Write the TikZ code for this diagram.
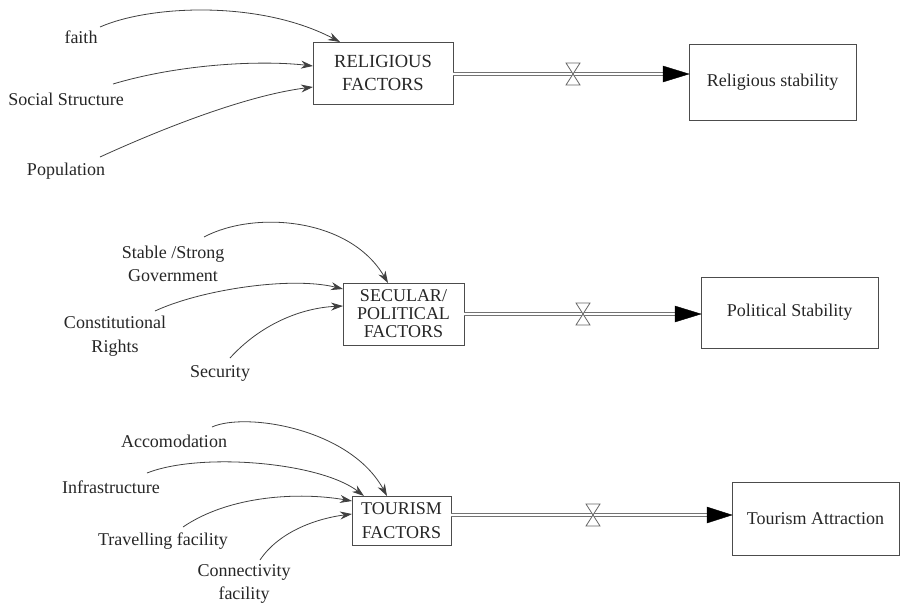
\documentclass[tikz,border=0pt]{standalone}
\usepackage{fontspec}
\setmainfont{Liberation Serif}
\usetikzlibrary{arrows.meta}
\begin{document}
\begin{tikzpicture}[x=1pt,y=-1pt,
  box/.style={draw=black!70, line width=1pt, inner sep=0pt, align=center, text=black!85},
  lbl/.style={inner sep=0pt, align=center, text=black!85, font=\fontsize{18}{23.5}\selectfont},
  link/.style={draw=black!75, line width=0.8pt, -{Stealth[length=12pt,width=8pt]}},
  pipe/.style={draw=black!55, double=white, double distance=2.4pt, line width=1pt},
  head/.style={fill=black, draw=black},
  valve/.style={draw=black!60, fill=white, line width=0.8pt}
  ]
\useasboundingbox (0,0) rectangle (903,608);

% ---------- Row 1 ----------
\node[box, minimum width=140pt, minimum height=62pt, font=\fontsize{18.5}{23}\selectfont] (rf) at (383,73) {RELIGIOUS\\FACTORS};
\node[box, minimum width=167pt, minimum height=76pt, font=\fontsize{18}{22}\selectfont] (rs) at (772.5,82) {Religious stability};
\node[lbl] (faith) at (81,37) {faith};
\node[lbl] (soc) at (66,99) {Social Structure};
\node[lbl] (pop) at (66,171) {Population};

\coordinate (f1) at (100,27);  \coordinate (f2) at (340,42);
\coordinate (s1) at (113,84);  \coordinate (s2) at (313,66);
\coordinate (p1) at (100,157); \coordinate (p2) at (313,87);
\draw[link] (f1) .. controls (150,5) and (260,0) .. (f2);
\draw[link] (s1) .. controls (180,64) and (260,60) .. (s2);
\draw[link] (p1) .. controls (170,125) and (250,95) .. (p2);

\coordinate (r1) at (453,74); \coordinate (r2) at (663,74); \coordinate (r3) at (689,74);
\draw[pipe] (r1) -- (r2);
\fill[head] (663,66) -- (r3) -- (663,82) -- cycle;
\draw[valve] (566,63) -- (580,63) -- (566,85) -- (580,85) -- cycle;

% ---------- Row 2 ----------
\node[box, minimum width=121pt, minimum height=62pt, font=\fontsize{18}{18}\selectfont] (sf) at (403.5,314) {SECULAR/\\POLITICAL\\FACTORS};
\node[box, minimum width=177pt, minimum height=71pt, font=\fontsize{18}{22}\selectfont] (ps) at (789.5,312.5) {Political Stability};
\node[lbl] (gov) at (173,264) {Stable /Strong\\Government};
\node[lbl] (con) at (115,336) {Constitutional\\Rights};
\node[lbl] (sec) at (220,373) {Security};

\coordinate (g1) at (204,237); \coordinate (g2) at (388,283);
\coordinate (c1) at (155,311); \coordinate (c2) at (343,289);
\coordinate (e1) at (230,358); \coordinate (e2) at (343,306);
\draw[link] (g1) .. controls (255,210) and (350,218) .. (g2);
\draw[link] (c1) .. controls (200,290) and (290,276) .. (c2);
\draw[link] (e1) .. controls (260,325) and (300,308) .. (e2);

\coordinate (q1) at (464,314); \coordinate (q2) at (675,314); \coordinate (q3) at (701,314);
\draw[pipe] (q1) -- (q2);
\fill[head] (675,306) -- (q3) -- (675,322) -- cycle;
\draw[valve] (576,303) -- (590,303) -- (576,325) -- (590,325) -- cycle;

% ---------- Row 3 ----------
\node[box, minimum width=99pt, minimum height=49pt, font=\fontsize{18}{24}\selectfont] (tf) at (401.5,520.5) {TOURISM\\FACTORS};
\node[box, minimum width=167pt, minimum height=73pt, font=\fontsize{18}{22}\selectfont] (ta) at (815.5,518.5) {Tourism Attraction};
\node[lbl] (acc) at (174,441) {Accomodation};
\node[lbl] (inf) at (111,487) {Infrastructure};
\node[lbl] (tra) at (163,541) {Travelling facility};
\node[lbl] (cnx) at (244,584) {Connectivity\\facility};

\coordinate (a1) at (212,427); \coordinate (a2) at (387,496);
\coordinate (i1) at (147,473); \coordinate (i2) at (364,496);
\coordinate (t1) at (183,527); \coordinate (t2) at (352,501);
\coordinate (k1) at (260,560); \coordinate (k2) at (352,514);
\draw[link] (a1) .. controls (245,412) and (350,428) .. (a2);
\draw[link] (i1) .. controls (200,452) and (320,462) .. (i2);
\draw[link] (t1) .. controls (230,495) and (300,492) .. (t2);
\draw[link] (k1) .. controls (280,530) and (320,518) .. (k2);

\coordinate (u1) at (451,515); \coordinate (u2) at (707,515); \coordinate (u3) at (732,515);
\draw[pipe] (u1) -- (u2);
\fill[head] (707,507) -- (u3) -- (707,523) -- cycle;
\draw[valve] (586,504) -- (600,504) -- (586,526) -- (600,526) -- cycle;
\end{tikzpicture}
\end{document}
